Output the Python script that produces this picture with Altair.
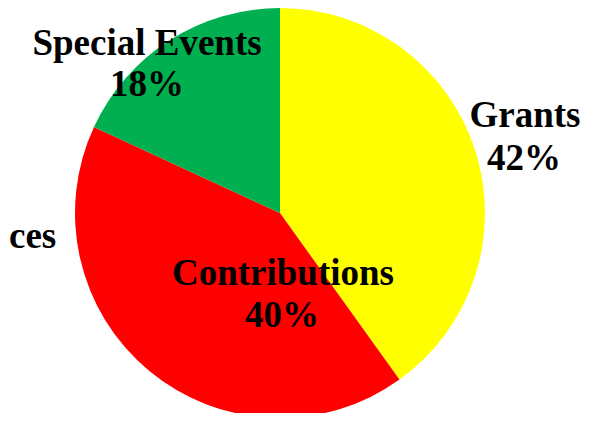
import altair as alt
import pandas as pd

categories = ["Grants", "Contributions", "Special Events"]
values = [40.1, 41.8, 18.1]
pct_labels = ["42%", "40%", "18%"]
colors = ["#FFFF00", "#FF0000", "#00B050"]
cut_label = "ces"

df = pd.DataFrame({"cat": categories, "value": values, "ord": [0, 1, 2]})

FONT = "Liberation Serif"
FS = 37

pie = alt.Chart(df).mark_arc(outerRadius=205, stroke=None).encode(
    theta=alt.Theta("value:Q", stack=True),
    color=alt.Color("cat:N", scale=alt.Scale(domain=categories, range=colors), legend=None),
    order=alt.Order("ord:Q", sort="ascending"),
    x=alt.value(272),
    y=alt.value(205),
)


def txt(s, x, y, align="center"):
    return alt.Chart(pd.DataFrame({"t": [s]})).mark_text(
        font=FONT, fontWeight="bold", fontSize=FS, align=align,
        baseline="alphabetic", color="black"
    ).encode(x=alt.value(x), y=alt.value(y), text="t:N")


layers = [
    pie,
    txt(categories[2], 139, 47), txt(pct_labels[2], 139, 88),
    txt(categories[0], 517, 119), txt(pct_labels[0], 516, 162),
    txt(categories[1], 275, 277), txt(pct_labels[1], 274, 319),
    txt(cut_label, 1, 240, align="left"),
]

chart = alt.layer(*layers).properties(
    width=599, height=405,
    autosize=alt.AutoSizeParams(type="none"),
    padding=0,
).configure_view(stroke=None)

chart.save("out.html", embed_options={"renderer": "svg", "actions": False})
